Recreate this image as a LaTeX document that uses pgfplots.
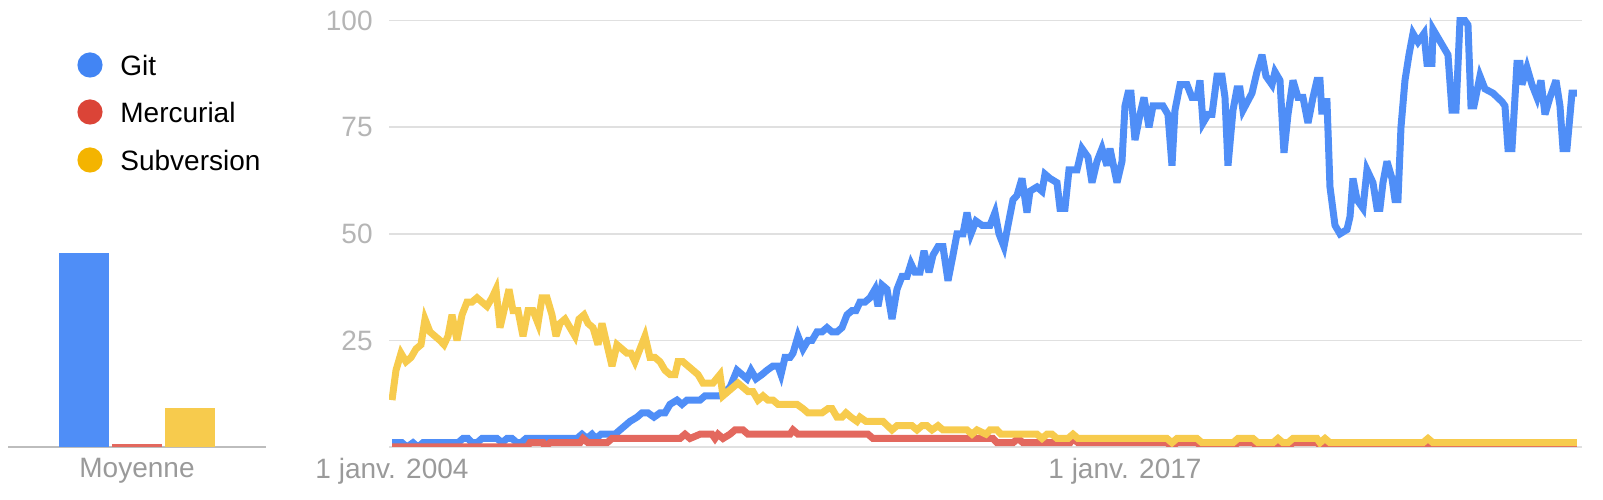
\documentclass[border=0pt]{standalone}
\usepackage{fontspec}
\setmainfont{Liberation Sans}
\usepackage{pgfplots}
\pgfplotsset{compat=1.18}
\definecolor{gitblue}{HTML}{4F8EF7}
\definecolor{hgred}{HTML}{E3685E}
\definecolor{svnyel}{HTML}{F7CB4D}
\definecolor{gitdot}{HTML}{4285F4}
\definecolor{hgdot}{HTML}{DB4437}
\definecolor{svndot}{HTML}{F4B400}
\definecolor{gridc}{HTML}{E0E0E0}
\definecolor{basec}{HTML}{BDBDBD}
\definecolor{ylab}{HTML}{B5B5B5}
\definecolor{xlab}{HTML}{9A9A9A}
\newcommand{\chartfont}{\fontsize{14bp}{16bp}\selectfont}
\begin{document}
\begin{tikzpicture}
\useasboundingbox (0,0) rectangle (801.5bp,250bp);
% legend
\fill[gitdot] (45bp,217.5bp) circle (6.3bp);
\node[anchor=west, inner sep=0pt, font=\chartfont] at (60bp,217.5bp) {Git};
\fill[hgdot] (45bp,194bp) circle (6.3bp);
\node[anchor=west, inner sep=0pt, font=\chartfont] at (60bp,194bp) {Mercurial};
\fill[svndot] (45bp,170bp) circle (6.3bp);
\node[anchor=west, inner sep=0pt, font=\chartfont] at (60bp,170bp) {Subversion};

% averages
\begin{axis}[
  at={(4bp,26.5bp)}, anchor=south west,
  x=26.5bp, y=2.1315bp,
  xmin=-1.434, xmax=3.434, ymin=0, ymax=104,
  axis line style={draw=none}, tick style={draw=none},
  major tick length=0pt,
  ytick={0}, yticklabels={},
  ymajorgrids, grid style={basec, line width=1bp},
  xtick={1}, xticklabels={Moyenne},
  xticklabel style={font=\chartfont, text=xlab, anchor=north, inner sep=0pt, yshift=-5.5bp},
]
\addplot[ybar, bar width=25bp, bar shift=0pt, fill=gitblue, draw=none] coordinates {(0,45.5)};
\addplot[ybar, bar width=25bp, bar shift=0pt, fill=hgred, draw=none] coordinates {(1,0.8)};
\addplot[ybar, bar width=25bp, bar shift=0pt, fill=svnyel, draw=none] coordinates {(2,9.2)};
\end{axis}

% main chart
\begin{axis}[
  at={(194.5bp,26.5bp)}, anchor=south west,
  x=0.5bp, y=2.1315bp,
  xmin=389, xmax=1582, ymin=0, ymax=104,
  axis line style={draw=none}, tick style={draw=none},
  major tick length=0pt,
  ytick={0,25,50,75,100}, yticklabels={,25,50,75,100},
  ymajorgrids, grid style={gridc, line width=0.8bp},
  xtick={392,1125}, xticklabels={1 janv. 2004,1 janv. 2017},
  yticklabel style={font=\chartfont, text=ylab, anchor=east, inner sep=0pt, xshift=-8bp},
  xticklabel style={font=\chartfont, text=xlab, anchor=north, inner sep=0pt, yshift=-5.5bp},
  every axis plot/.append style={line width=3.5bp, miter limit=4},
]
\addplot[gitblue] coordinates {
(392,1)(397,1)(402,1)(407,0)(413,1)(418,0)(423,1)(428,1)(433,1)(438,1)(443,1)(448,1)(453,1)(458,1)
(463,2)(468,2)(472,1)(477,1)(482,2)(487,2)(492,2)(497,2)(502,1)(507,2)(512,2)(517,1)(521,1)(526,2)
(531,2)(536,2)(541,2)(546,2)(551,2)(556,2)(561,2)(566,2)(571,2)(577,2)(582,3)(587,2)(592,3)(596,2)
(601,3)(606,3)(611,3)(615,3)(620,4)(625,5)(630,6)(637,7)(642,8)(648,8)(654,7)(660,8)(665,8)(670,10)
(677,11)(682,10)(687,11)(700,11)(705,12)(720,12)(725,13)(730,14)(737,18)(742,17)(747,16)(751,18)
(756,16)(762,17)(767,18)(773,19)(778,19)(781,17)(785,21)(790,21)(793,22)(798,26)(803,23)(808,25)
(812,25)(817,27)(822,27)(827,28)(832,27)(837,27)(842,28)(847,31)(852,32)(856,32)(860,34)(865,34)
(870,35)(875,37)(878,33)(882,38)(887,37)(892,30)(897,37)(902,40)(907,40)(911,43)(915,41)(920,41)
(924,46)(929,41)(933,45)(938,47)(943,47)(948,39)(953,45)(957,50)(963,50)(967,55)(971,50)(976,53)
(982,52)(990,52)(995,55)(999,50)(1004,47)(1008,52)(1013,58)(1017,59)(1022,63)(1027,55)(1030,60)
(1037,61)(1042,60)(1045,64)(1050,63)(1057,62)(1060,56)(1065,56)(1069,65)(1077,65)(1082,70)(1088,68)
(1092,62)(1097,67)(1102,70)(1107,66)(1110,70)(1117,62)(1122,67)(1125,80)(1128,83)(1131,83)(1135,72)
(1140,78)(1144,82)(1149,75)(1153,80)(1163,80)(1168,78)(1172,66)(1175,79)(1180,85)(1187,85)(1192,82)
(1197,82)(1200,86)(1203,76)(1208,78)(1212,78)(1217,87)(1222,87)(1225,82)(1228,66)(1233,79)(1237,84)
(1240,84)(1243,79)(1252,83)(1257,88)(1262,92)(1266,87)(1272,85)(1275,88)(1280,86)(1284,69)(1288,78)
(1293,86)(1298,82)(1303,82)(1308,76)(1313,82)(1317,86)(1320,86)(1322,78)(1323,81)(1327,81)(1330,61)
(1335,52)(1340,50)(1347,51)(1350,54)(1353,63)(1357,58)(1363,56)(1367,65)(1373,62)(1377,56)(1380,56)
(1383,62)(1387,67)(1392,63)(1395,58)(1398,58)(1401,75)(1405,86)(1409,92)(1413,97)(1418,95)(1424,97)
(1427,90)(1432,90)(1433,98)(1438,96)(1443,94)(1448,92)(1452,79)(1456,79)(1460,100)(1465,100)(1468,99)
(1471,80)(1474,80)(1480,87)(1485,84)(1493,83)(1502,81)(1505,80)(1508,70)(1512,70)(1517,90)(1520,90)
(1522,85)(1527,89)(1532,85)(1537,82)(1541,86)(1545,78)(1550,82)(1556,86)(1560,80)(1563,70)(1567,70)
(1572,83)(1577,83)
};
\addplot[hgred] coordinates {
(392,0)(527,0)(530,1)(543,1)(545,0)(550,1)(580,1)(583,2)(588,1)(607,1)(612,2)(680,2)(685,3)(690,2)
(700,3)(712,3)(715,2)(718,3)(723,2)(730,3)(735,4)(743,4)(748,3)(790,3)(793,4)(798,3)(868,3)(873,2)
(993,2)(997,1)(1013,1)(1018,2)(1023,1)(1070,1)(1073,2)(1078,1)(1167,1)(1172,0)(1177,1)(1197,1)
(1202,0)(1233,0)(1238,1)(1253,1)(1258,0)(1273,0)(1278,1)(1283,0)(1288,0)(1293,1)(1317,1)(1322,0)
(1325,1)(1330,0)(1423,0)(1428,1)(1433,0)(1577,0)
};
\addplot[svnyel] coordinates {
(392,11)(396,18)(401,22)(406,20)(411,21)(416,23)(421,24)(425,30)(430,27)(435,26)(440,25)(444,24)
(448,26)(452,31)(457,25)(462,31)(467,34)(472,34)(477,35)(482,34)(487,33)(492,35)(496,37)(500,28)
(505,33)(509,37)(513,32)(518,32)(523,26)(528,32)(533,32)(538,29)(542,35)(547,35)(552,31)(556,26)
(560,29)(565,30)(570,28)(575,26)(579,30)(584,31)(588,29)(593,28)(598,24)(602,29)(607,24)(612,19)
(617,24)(622,23)(627,22)(631,22)(635,20)(640,23)(645,26)(650,21)(655,21)(660,20)(665,18)(670,17)
(675,17)(678,20)(683,20)(688,19)(693,18)(698,17)(703,15)(708,15)(713,15)(720,17)(723,12)(728,13)
(733,14)(738,15)(743,14)(748,13)(753,13)(758,11)(763,12)(768,11)(773,11)(778,10)(783,10)(797,10)
(803,9)(808,8)(813,8)(822,8)(828,9)(832,9)(837,7)(842,7)(846,8)(851,7)(857,6)(860,7)(866,6)(883,6)
(892,4)(897,5)(912,5)(917,4)(922,5)(927,5)(932,4)(938,5)(943,4)(967,4)(972,3)(977,4)(986,3)(990,4)
(997,4)(1001,3)(1037,3)(1042,2)(1047,3)(1052,3)(1057,2)(1068,2)(1073,3)(1078,2)(1167,2)(1172,1)
(1177,2)(1197,2)(1202,1)(1233,1)(1238,2)(1253,2)(1258,1)(1273,1)(1278,2)(1283,1)(1288,1)(1293,2)
(1317,2)(1320,1)(1325,2)(1330,1)(1423,1)(1428,2)(1433,1)(1577,1)
};
\end{axis}
\end{tikzpicture}
\end{document}
